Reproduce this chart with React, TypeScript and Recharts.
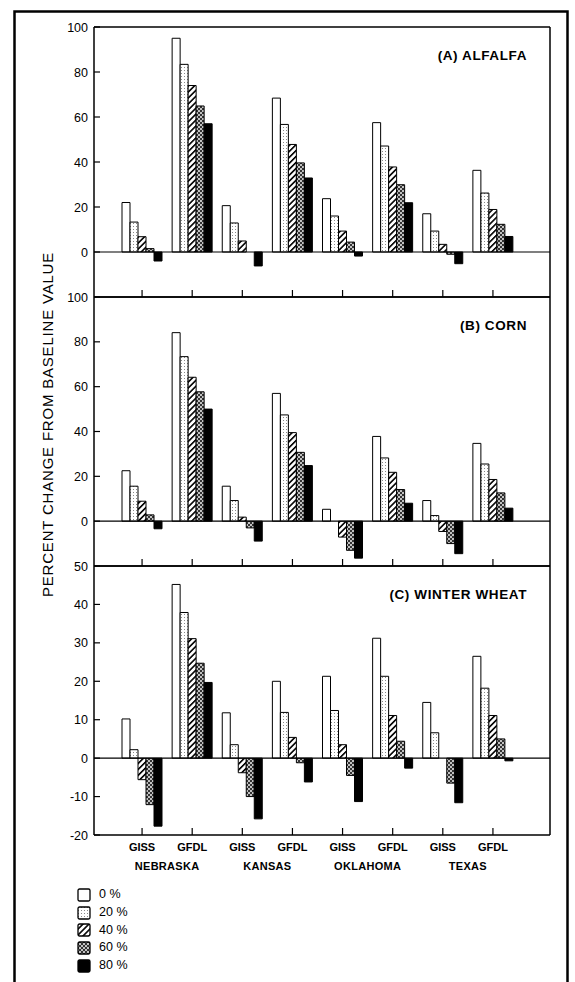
import {
  BarChart,
  Bar,
  XAxis,
  YAxis,
  ReferenceLine,
  Legend,
} from 'recharts';

const FONT = '"Liberation Sans", Arial, Helvetica, sans-serif';

// x categories
const models = ['GISS', 'GFDL', 'GISS', 'GFDL', 'GISS', 'GFDL', 'GISS', 'GFDL'];
const states = ['NEBRASKA', 'NEBRASKA', 'KANSAS', 'KANSAS', 'OKLAHOMA', 'OKLAHOMA', 'TEXAS', 'TEXAS'];
const scenarios = ['0 %', '20 %', '40 %', '60 %', '80 %'];

// (A) alfalfa, one array per CO2 scenario
const alfalfa0 = [22, 95, 20.6, 68.4, 23.7, 57.5, 17, 36.3];
const alfalfa20 = [13.3, 83.4, 12.9, 56.7, 16, 47.1, 9.3, 26.2];
const alfalfa40 = [6.8, 74, 4.9, 47.8, 9.3, 37.8, 3.4, 18.9];
const alfalfa60 = [1.5, 64.9, 0, 39.6, 4.4, 29.9, -1, 12.3];
const alfalfa80 = [-4, 57, -6.2, 32.9, -1.8, 21.9, -5.2, 6.9];

// (B) corn
const corn0 = [22.5, 84.1, 15.6, 57, 5.3, 37.8, 9.2, 34.7];
const corn20 = [15.6, 73.4, 9.2, 47.4, 0, 28.2, 2.5, 25.5];
const corn40 = [8.9, 64.2, 1.8, 39.5, -7.1, 21.8, -4.6, 18.6];
const corn60 = [2.8, 57.7, -3, 30.7, -13, 14.1, -10, 12.6];
const corn80 = [-3.4, 50, -8.9, 24.8, -16.5, 8, -14.5, 5.8];

// (C) winter wheat
const wheat0 = [10.2, 45.2, 11.8, 20, 21.3, 31.2, 14.5, 26.5];
const wheat20 = [2.2, 37.9, 3.5, 11.9, 12.4, 21.3, 6.6, 18.2];
const wheat40 = [-5.6, 31.1, -3.8, 5.4, 3.5, 11.1, 0, 11.1];
const wheat60 = [-12.1, 24.7, -10, -1.2, -4.5, 4.4, -6.5, 5];
const wheat80 = [-17.7, 19.7, -15.8, -6.2, -11.3, -2.6, -11.6, -0.7];

const ticksAB = [0, 20, 40, 60, 80, 100];
const ticksC = [-20, -10, 0, 10, 20, 30, 40, 50];

const fills = ['#fff', 'url(#pat20)', 'url(#pat40)', 'url(#pat60)', '#000'];
const keys = ['p0', 'p20', 'p40', 'p60', 'p80'];

const toRows = (series: number[][]) =>
  models.map((m, i) => ({
    model: m,
    state: states[i],
    p0: series[0][i],
    p20: series[1][i],
    p40: series[2][i],
    p60: series[3][i],
    p80: series[4][i],
  }));

const alfalfaData = toRows([alfalfa0, alfalfa20, alfalfa40, alfalfa60, alfalfa80]);
const cornData = toRows([corn0, corn20, corn40, corn60, corn80]);
const wheatData = toRows([wheat0, wheat20, wheat40, wheat60, wheat80]);

const LeftTick = (props: any) => {
  const { x, y, payload } = props;
  return (
    <g>
      <line x1={x} x2={x + 6} y1={y} y2={y} stroke="#000" strokeWidth={1.2} />
      <text x={x - 6} y={y} dy={4.5} textAnchor="end" fontSize={12.5} fontFamily={FONT} fill="#000">
        {payload.value}
      </text>
    </g>
  );
};

const RightTick = (props: any) => {
  const { x, y } = props;
  return <line x1={x - 7} x2={x} y1={y} y2={y} stroke="#000" strokeWidth={1.2} />;
};

const InTick = (props: any) => {
  const { x, y } = props;
  return <line x1={x} x2={x} y1={y - 7} y2={y} stroke="#000" strokeWidth={1.2} />;
};

const ModelTick = (props: any) => {
  const { x, y, payload } = props;
  return (
    <g>
      <line x1={x} x2={x} y1={y - 7} y2={y} stroke="#000" strokeWidth={1.2} />
      <text x={x} y={y + 16} textAnchor="middle" fontSize={11} fontWeight={600} fontFamily={FONT} fill="#000">
        {payload.value}
      </text>
    </g>
  );
};

const StateTick = (props: any) => {
  const { x, y, payload } = props;
  return (
    <text x={x} y={y + 13} textAnchor="middle" fontSize={11} fontWeight={600} fontFamily={FONT} fill="#000" letterSpacing={0.3}>
      {payload.value}
    </text>
  );
};

const YLabel = (props: any) => {
  const { viewBox } = props;
  const cx = viewBox.x + viewBox.width - 47;
  const cy = viewBox.y + viewBox.height / 2 - 7;
  return (
    <text
      x={cx}
      y={cy}
      transform={`rotate(-90, ${cx}, ${cy})`}
      textAnchor="middle"
      dominantBaseline="central"
      fontSize={15}
      letterSpacing={0.8}
      fontFamily={FONT}
      fill="#000"
    >
      PERCENT CHANGE FROM BASELINE VALUE
    </text>
  );
};

const LegendBox = (props: any) => {
  const { payload } = props;
  return (
    <div style={{ fontFamily: FONT, fontSize: 12.5, lineHeight: '17.8px' }}>
      {(payload || []).map((entry: any, i: number) => (
        <div key={i} style={{ display: 'flex', alignItems: 'center', height: 17.8 }}>
          <svg width={16} height={14} style={{ marginRight: 6 }}>
            <rect x={1} y={1} width={12} height={12} fill={fills[i]} stroke="#000" strokeWidth={1.3} rx={1.5} />
          </svg>
          <span>{entry.value}</span>
        </div>
      ))}
    </div>
  );
};

const PAD = { left: 23, right: 32 };

type PanelProps = {
  data: any[];
  title: string;
  domain: [number, number];
  ticks: number[];
  top: number;
  height: number;
  margin: { top: number; right: number; bottom: number; left: number };
  bottomPanel?: boolean;
  yLabel?: boolean;
};

const Panel = ({ data, title, domain, ticks, top, height, margin, bottomPanel, yLabel }: PanelProps) => (
  <div style={{ position: 'absolute', left: 0, top }}>
    <BarChart
      width={575}
      height={height}
      data={data}
      margin={margin}
      barGap={0}
      barCategoryGap="10%"
    >
      <XAxis
        dataKey="model"
        padding={PAD}
        height={bottomPanel ? 22 : 1}
        tickSize={0}
        tickMargin={0}
        tickLine={false}
        axisLine={{ stroke: '#000', strokeWidth: 1.5 }}
        tick={bottomPanel ? <ModelTick /> : <InTick />}
        interval={0}
      />
      {bottomPanel && (
        <XAxis
          xAxisId="state"
          dataKey="state"
          allowDuplicatedCategory={false}
          padding={PAD}
          height={22}
          tickSize={0}
          tickMargin={0}
          tickLine={false}
          axisLine={false}
          tick={<StateTick />}
          interval={0}
        />
      )}
      <YAxis
        width={40}
        domain={domain}
        ticks={ticks}
        type="number"
        tickSize={0}
        tickMargin={0}
        tickLine={false}
        axisLine={{ stroke: '#000', strokeWidth: 1.5 }}
        tick={<LeftTick />}
        interval={0}
        label={yLabel ? <YLabel /> : undefined}
      />
      <YAxis
        yAxisId="right"
        orientation="right"
        width={10}
        domain={domain}
        ticks={ticks}
        type="number"
        tickSize={0}
        tickMargin={0}
        tickLine={false}
        axisLine={{ stroke: '#000', strokeWidth: 1.5 }}
        tick={<RightTick />}
        interval={0}
      />
      <ReferenceLine
        y={domain[1]}
        stroke="#000"
        strokeWidth={1.5}
        label={{
          value: title,
          position: 'insideTopRight',
          offset: 23,
          fill: '#000',
          fontSize: 13.5,
          fontWeight: 700,
          fontFamily: FONT,
          letterSpacing: 0.6,
        }}
      />
      <ReferenceLine y={0} stroke="#000" strokeWidth={1.2} />
      {keys.map((k, i) => (
        <Bar
          key={k}
          dataKey={k}
          name={scenarios[i]}
          fill={fills[i]}
          stroke="#000"
          strokeWidth={1}
          isAnimationActive={false}
        />
      ))}
      {bottomPanel && (
        <Legend
          layout="vertical"
          align="center"
          verticalAlign="middle"
          content={<LegendBox />}
          wrapperStyle={{ left: 77, top: 330, width: 80 }}
        />
      )}
    </BarChart>
  </div>
);

export default function App() {
  return (
    <div style={{ position: 'absolute', left: 0, top: 0, width: 575, height: 982, background: '#fff', overflow: 'hidden' }}>
      <style>{'.recharts-surface { overflow: visible; }'}</style>
      <svg width={575} height={982} style={{ position: 'absolute', left: 0, top: 0 }}>
        <defs>
          <pattern id="pat20" width={3} height={3} patternUnits="userSpaceOnUse">
            <rect width={3} height={3} fill="#fff" />
            <rect x={1} y={1} width={1} height={1} fill="#8a8a8a" />
          </pattern>
          <pattern id="pat40" width={4.2} height={4.2} patternUnits="userSpaceOnUse" patternTransform="rotate(45)">
            <rect width={4.2} height={4.2} fill="#fff" />
            <rect x={0} y={0} width={1.6} height={4.2} fill="#000" />
          </pattern>
          <pattern id="pat60" width={4} height={4} patternUnits="userSpaceOnUse">
            <rect width={4} height={4} fill="#333" />
            <circle cx={1} cy={1} r={0.95} fill="#fff" />
            <circle cx={3} cy={3} r={0.95} fill="#fff" />
          </pattern>
        </defs>
        {/* outer frame, open at the bottom */}
        <path d="M14.5 990 L14.5 11.5 L567.5 11.5 L567.5 990" fill="none" stroke="#000" strokeWidth={2.5} />
      </svg>
      <Panel
        data={alfalfaData}
        title="(A) ALFALFA"
        domain={[-20, 100]}
        ticks={ticksAB}
        top={0}
        height={300}
        margin={{ top: 27, right: 15, bottom: 2, left: 54 }}
      />
      <Panel
        data={cornData}
        title="(B) CORN"
        domain={[-20, 100]}
        ticks={ticksAB}
        top={290}
        height={280}
        margin={{ top: 7, right: 15, bottom: 3, left: 54 }}
        yLabel
      />
      <Panel
        data={wheatData}
        title="(C) WINTER WHEAT"
        domain={[-20, 50]}
        ticks={ticksC}
        top={556}
        height={426}
        margin={{ top: 10, right: 15, bottom: 103, left: 54 }}
        bottomPanel
      />
    </div>
  );
}
